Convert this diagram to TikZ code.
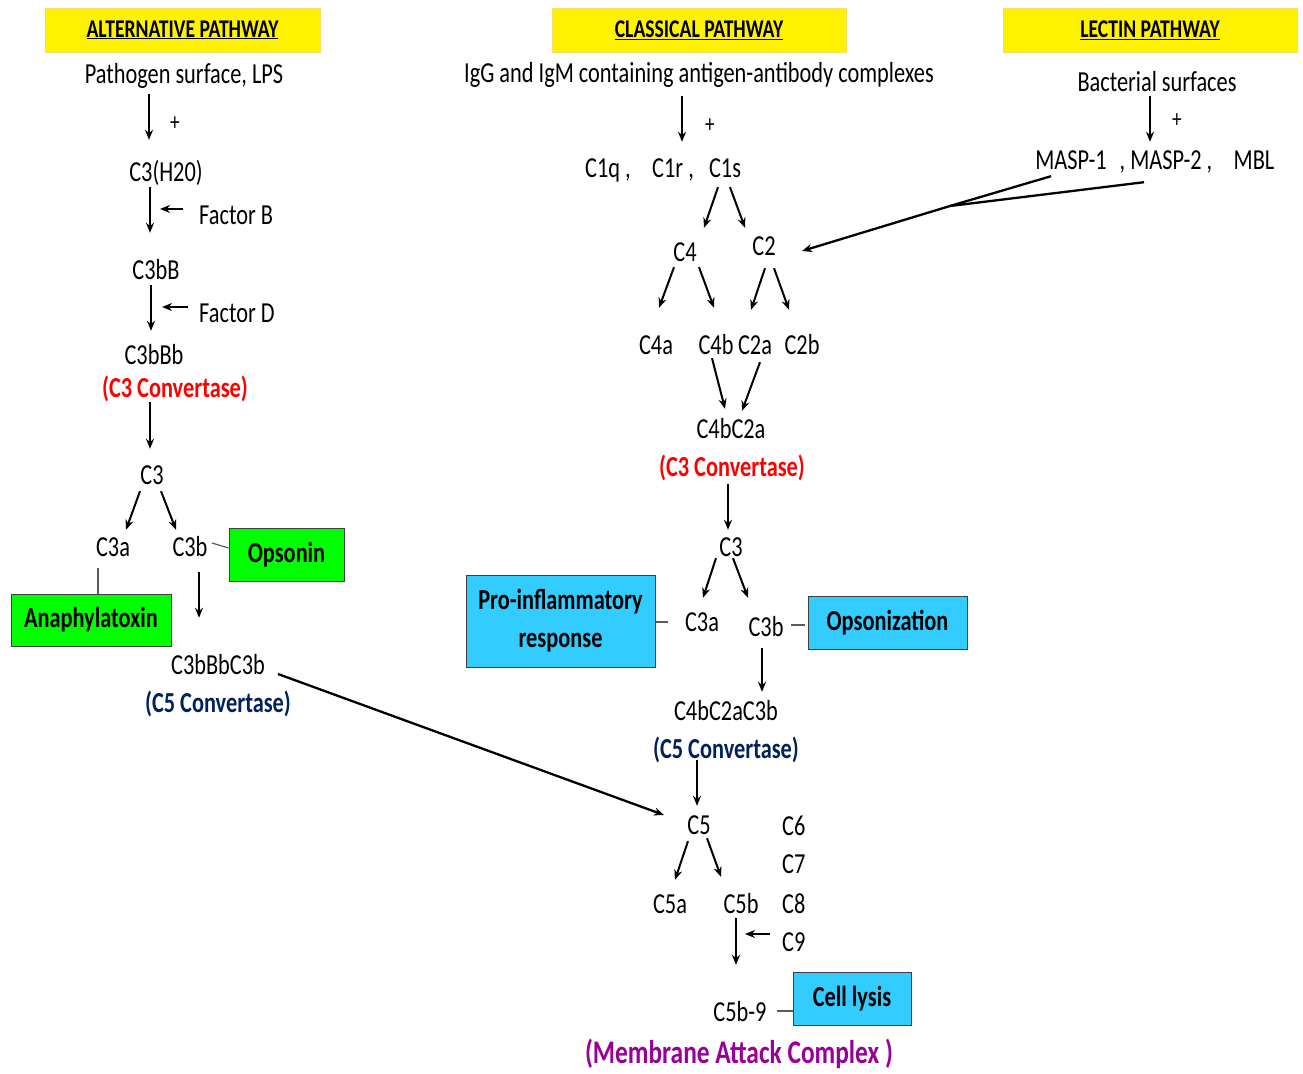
\documentclass[tikz,border=0pt]{standalone}
\usepackage{fontspec}
\setmainfont[FakeStretch=0.77]{Carlito}
\usetikzlibrary{arrows.meta}
\definecolor{hdrline}{RGB}{255,217,102}
\definecolor{boxline}{RGB}{64,64,64}
\definecolor{limefill}{RGB}{0,255,0}
\definecolor{skyfill}{RGB}{51,204,255}
\definecolor{convred}{RGB}{255,0,0}
\definecolor{convblue}{RGB}{0,32,96}
\definecolor{macpurple}{RGB}{153,0,153}
\definecolor{linkgray}{RGB}{90,90,90}
\newcommand\bodyfont{\fontsize{29}{31}\selectfont}
\newcommand\headfont{\fontsize{25.5}{28}\selectfont\bfseries}
\newcommand\plusfont{\fontsize{25}{27}\selectfont}
\begin{document}
\begin{tikzpicture}[x=1pt,y=-1pt,
	lbl/.style={font=\bodyfont,inner sep=0pt,text height=20pt,text depth=2pt},
	conv/.style={lbl,font=\bodyfont\bfseries},
	plus/.style={font=\plusfont,inner sep=0pt},
	hdr/.style={draw=hdrline,fill=yellow,line width=0.8pt,font=\headfont,inner sep=0pt,minimum height=44pt},
	outbox/.style={draw=boxline,line width=1pt,font=\bodyfont\bfseries,inner sep=0pt,align=center},
	greenbox/.style={outbox,fill=limefill},
	bluebox/.style={outbox,fill=skyfill},
	arr/.style={line width=2pt,-{Stealth[length=10pt,width=8pt]}},
	link/.style={draw=linkgray,line width=1.2pt}]
	\useasboundingbox (0,0) rectangle (1303,1073);
	\node [hdr,minimum width=275pt] (althdr) at (182.5,30) {\underline{ALTERNATIVE PATHWAY}};
	\node [hdr,minimum width=294pt] (clhdr) at (699,30.5) {\underline{CLASSICAL PATHWAY}};
	\node [hdr,minimum width=294pt] (lechdr) at (1150,30) {\underline{LECTIN PATHWAY}};
	\node [lbl] (pathogen) at (184,74) {Pathogen surface, LPS};
	\node [plus] (plus1) at (175,124) {+};
	\node [lbl] (c3h2o) at (166,172) {C3(H20)};
	\node [lbl,anchor=west] (factB) at (199,215) {Factor B};
	\node [lbl] (c3bB) at (156,270) {C3bB};
	\node [lbl,anchor=west] (factD) at (199,313) {Factor D};
	\node [lbl] (c3bBb) at (154,355) {C3bBb};
	\node [conv,text=convred] (c3conv) at (175,388) {(C3 Convertase)};
	\node [lbl] (c3alt) at (152,475) {C3};
	\node [lbl] (c3aalt) at (113,547) {C3a};
	\node [lbl] (c3balt) at (190,547) {C3b};
	\node [greenbox,minimum width=115pt,minimum height=53pt] (opson) at (286.5,554.5) {Opsonin};
	\node [greenbox,minimum width=160pt,minimum height=52pt] (anaph) at (91,620) {Anaphylatoxin};
	\node [lbl] (c3bBbC3b) at (218,665) {C3bBbC3b};
	\node [conv,text=convblue] (c5convalt) at (218,703) {(C5 Convertase)};
	\draw [arr] ([xshift=-35pt,yshift=-9pt]pathogen.south) -- ([xshift=-17pt,yshift=21pt]c3h2o.north);
	\draw [arr] ([xshift=-16pt,yshift=-4pt]c3h2o.south) -- ([xshift=-6pt,yshift=26pt]c3bB.north);
	\draw [arr] ([xshift=-16pt,yshift=6pt]factB.west) -- ([xshift=-39pt,yshift=6pt]factB.west);
	\draw [arr] ([xshift=-5pt,yshift=-4pt]c3bB.south) -- ([xshift=-3pt,yshift=13pt]c3bBb.north);
	\draw [arr] ([xshift=-11pt,yshift=6pt]factD.west) -- ([xshift=-37pt,yshift=6pt]factD.west);
	\draw [arr] ([xshift=-25pt,yshift=-3pt]c3conv.south) -- ([xshift=-2pt,yshift=15pt]c3alt.north);
	\draw [arr] ([xshift=-12pt,yshift=-5pt]c3alt.south) -- ([xshift=13pt,yshift=6pt]c3aalt.north);
	\draw [arr] ([xshift=9pt,yshift=-5pt]c3alt.south) -- ([xshift=-14pt,yshift=6pt]c3balt.north);
	\draw [link] ([xshift=22pt,yshift=4pt]c3balt.center) -- ([yshift=6.5pt]opson.west);
	\draw [link] ([xshift=-15pt,yshift=-10pt]c3aalt.south) -- ([xshift=7pt]anaph.north);
	\draw [arr] ([xshift=9pt,yshift=-14pt]c3balt.south) -- ([xshift=-19pt,yshift=36pt]c3bBbC3b.north);
	\node [lbl] (igg) at (699,73) {IgG and IgM containing antigen-antibody complexes};
	\node [plus] (plus2) at (710,126) {+};
	\node [lbl] (c1q) at (608,168) {C1q ,};
	\node [lbl] (c1r) at (673,168) {C1r ,};
	\node [lbl] (c1s) at (725,168) {C1s};
	\node [lbl] (c4) at (685,252) {C4};
	\node [lbl] (c2) at (764,246) {C2};
	\foreach \n/\t/\x in {c4a/C4a/656,c4b/C4b/716,c2a/C2a/755,c2b/C2b/802}
		\node [lbl] (\n) at (\x,345) {\t};
	\node [lbl] (c4bc2a) at (731,429) {C4bC2a};
	\node [conv,text=convred] (c3convcl) at (732,467) {(C3 Convertase)};
	\node [lbl] (c3cl) at (731,547) {C3};
	\node [lbl] (c3acl) at (702,622) {C3a};
	\node [lbl] (c3bcl) at (766,627) {C3b};
	\node [bluebox,minimum width=189pt,minimum height=92pt,font=\fontsize{29}{38}\selectfont\bfseries] (proinfl) at (560.5,621) {Pro-inflammatory\\response};
	\node [bluebox,minimum width=159pt,minimum height=53pt] (opsz) at (887.5,622.5) {Opsonization};
	\node [lbl] (c4bc2ac3b) at (726,711) {C4bC2aC3b};
	\node [conv,text=convblue] (c5convcl) at (726,749) {(C5 Convertase)};
	\node [lbl] (c5) at (699,825) {C5};
	\node [lbl] (c5a) at (670,904) {C5a};
	\node [lbl] (c5b) at (741,904) {C5b};
	\foreach \n/\y in {6/826,7/864,8/904,9/942}
		\node [lbl,anchor=west] (c\n) at (782,\y) {C\n};
	\node [lbl] (c5b9) at (740,1012) {C5b-9};
	\node [bluebox,minimum width=118pt,minimum height=53pt] (lysis) at (852,998.5) {Cell lysis};
	\node [conv,text=macpurple,font=\fontsize{33}{35}\selectfont\bfseries] (mac) at (739,1054) {(Membrane Attack Complex )};
	\draw [arr,line width=2.3pt] ([xshift=60pt,yshift=-9pt]c3bBbC3b.center) -- ([xshift=-35pt,yshift=10pt]c5.center);
	\draw [arr] ([xshift=-17pt,yshift=-12pt]igg.south) -- ([xshift=9pt,yshift=15pt]c1r.north);
	\draw [arr] ([xshift=-7pt,yshift=-8pt]c1s.south) -- ([xshift=19pt,yshift=13pt]c4.north);
	\draw [arr] ([xshift=5pt,yshift=-8pt]c1s.south) -- ([xshift=-19pt,yshift=7pt]c2.north);
	\draw [arr] ([xshift=-11pt,yshift=-4pt]c4.south) -- ([xshift=3pt,yshift=26pt]c4a.north);
	\draw [arr] ([xshift=14pt,yshift=-4pt]c4.south) -- ([xshift=-2pt,yshift=26pt]c4b.north);
	\draw [arr] ([xshift=1pt,yshift=-11pt]c2.south) -- ([xshift=-4pt,yshift=24pt]c2a.north);
	\draw [arr] ([xshift=10pt,yshift=-11pt]c2.south) -- ([xshift=-13pt,yshift=24pt]c2b.north);
	\draw [arr] ([xshift=-4pt,yshift=-2pt]c4b.south) -- ([xshift=-6pt,yshift=9pt]c4bc2a.north);
	\draw [arr] ([xshift=5pt,yshift=-6pt]c2a.south) -- ([xshift=11pt,yshift=7pt]c4bc2a.north);
	\draw [arr] ([xshift=-4pt,yshift=-6pt]c3convcl.south) -- ([xshift=-3pt,yshift=6pt]c3cl.north);
	\draw [arr] ([xshift=-15pt]c3cl.south) -- ([xshift=1pt,yshift=13pt]c3acl.north);
	\draw [arr] ([xshift=2pt]c3cl.south) -- ([xshift=-18pt,yshift=18pt]c3bcl.north);
	\draw [link] ([yshift=-1pt]proinfl.east) -- ([xshift=-34pt]c3acl.center);
	\draw [link] ([xshift=25pt,yshift=2pt]c3bcl.center) -- ([xshift=-3pt,yshift=-2.5pt]opsz.west);
	\draw [arr] ([xshift=-4pt,yshift=-10pt]c3bcl.south) -- ([xshift=36pt,yshift=8pt]c4bc2ac3b.north);
	\draw [arr] ([xshift=-29pt]c5convcl.south) -- ([xshift=-2pt,yshift=8pt]c5.north);
	\draw [arr] ([xshift=-11pt,yshift=-5pt]c5.south) -- ([xshift=5pt,yshift=13pt]c5a.north);
	\draw [arr] ([xshift=8pt,yshift=-2pt]c5.south) -- ([xshift=-20pt,yshift=16pt]c5b.north);
	\draw [arr] ([xshift=-5pt,yshift=-3pt]c5b.south) -- ([xshift=-4pt,yshift=36pt]c5b9.north);
	\draw [arr] ([xshift=-12pt,yshift=8pt]c9.west) -- ([xshift=-37pt,yshift=8pt]c9.west);
	\draw [link] ([xshift=37pt,yshift=1pt]c5b9.center) -- ([yshift=-12.5pt]lysis.west);
	\node [lbl] (bact) at (1157,82) {Bacterial surfaces};
	\node [plus] (plus3) at (1177,121) {+};
	\node [lbl] (masp1) at (1071,160) {MASP-1};
	\node [lbl] (masp2) at (1166,160) {, MASP-2 ,};
	\node [lbl] (mbl) at (1254,160) {MBL};
	\coordinate (lectjoin) at (950,206);
	\draw [arr] ([xshift=-7pt,yshift=-3pt]bact.south) -- ([xshift=-16pt,yshift=7pt]masp2.north);
	\draw [line width=2.3pt] ([xshift=-20pt,yshift=-5pt]masp1.south) -- (lectjoin);
	\draw [line width=2.3pt] ([xshift=-22pt,yshift=-11pt]masp2.south) -- (lectjoin);
	\draw [arr,line width=2.3pt] (lectjoin) -- ([xshift=38pt,yshift=-5pt]c2.center);
\end{tikzpicture}
\end{document}
